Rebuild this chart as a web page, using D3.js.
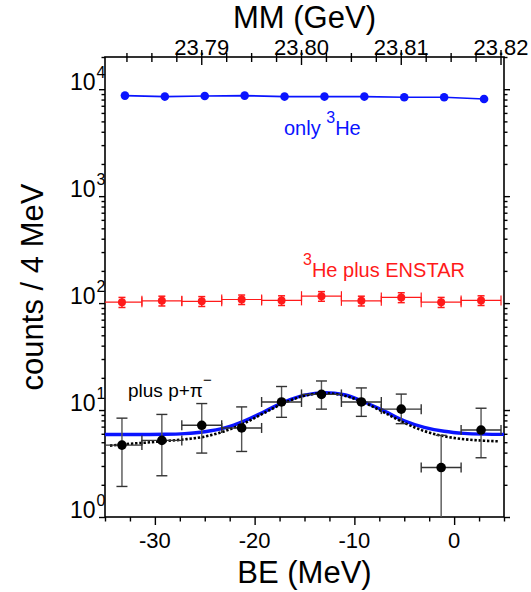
<!DOCTYPE html>
<html>
<head>
<meta charset="utf-8">
<script src="https://cdn.jsdelivr.net/npm/d3@7"></script>
<style>
  body { margin: 0; background: #fff; }
  svg { display: block; }
  text { font-family: "Liberation Sans", Arial, Helvetica, sans-serif; }
</style>
</head>
<body>
<svg id="chart" width="531" height="592"></svg>
<script>
// ---- data ---------------------------------------------------------------
// bin centres of the 4 MeV binding-energy histograms (MeV)
const beCentersOnlyHe = [-33, -29, -25, -21, -17, -13, -9, -5, -1, 3];
const onlyHe = [8710, 8530, 8650, 8710, 8530, 8530, 8530, 8410, 8410, 8110];

const beCenters = [-33.3, -29.3, -25.3, -21.3, -17.3, -13.3, -9.3, -5.3, -1.3, 2.7];
const heEnstar = [102, 105, 104, 108, 106, 116, 105, 113, 102, 106];
const heEnstarErr = [11, 11, 11, 11, 11, 12, 11, 12, 11, 11];

const plusPPi = [4.7, 5.2, 7.2, 6.8, 11.9, 14.0, 11.9, 10.2, 2.9, 6.5];
const plusPPiHi = [8.4, 9.1, 11.5, 10.7, 16.6, 18.7, 16.1, 14.1, 5.8, 10.4];
const plusPPiLo = [1.93, 2.43, 3.96, 4.1, 8.55, 10.2, 8.73, 7.46, 0.5, 3.58];
const binHalfWidth = 2;

// fit with flat background (solid blue)
const fitBE = [-35, -33, -31, -29, -27, -25, -23, -21, -19, -17, -15, -13, -11, -9, -7, -5, -3, -1, 1, 3, 5];
const fitFlat = [5.90, 5.90, 5.91, 5.93, 6.02, 6.27, 6.80, 7.92, 9.70, 11.95, 13.80, 14.55, 13.90, 11.90, 9.80, 7.95, 6.90, 6.33, 6.05, 5.95, 5.92];
// fit with curved background (dotted black)
const fitAltBE = [-34.5, -33, -31, -29, -27, -25, -23, -21, -19, -17, -15, -13, -11, -9, -7, -5, -3, -1, 1, 3, 4.5];
const fitCurvedBg = [4.65, 4.80, 4.95, 5.13, 5.32, 5.65, 6.35, 7.56, 9.43, 11.69, 13.62, 14.38, 13.63, 11.72, 9.47, 7.60, 6.37, 5.69, 5.34, 5.17, 5.10];

const beMajorTicks = [-30, -20, -10, 0];
const beMinorTicks = [-35, -32.5, -27.5, -25, -22.5, -17.5, -15, -12.5, -7.5, -5, -2.5, 2.5, 5];
const yDecades = [0, 1, 2, 3, 4];
const mmMajorTicks = [23.79, 23.80, 23.81, 23.82];
const mmMinorTicks = [23.7825, 23.785, 23.7875, 23.7925, 23.795, 23.7975, 23.8025, 23.805, 23.8075, 23.8125, 23.815, 23.8175];
const mmAtZeroBE = 23.8153; // GeV

// ---- layout -------------------------------------------------------------
const W = 531, H = 592;
const m = { left: 105, right: 27, top: 57, bottom: 75 };
const x0 = m.left, x1 = W - m.right, yTop = m.top, yBot = H - m.bottom;

const svg = d3.select("#chart");

const x = d3.scaleLinear().domain([-35, 5]).range([x0, x1]);
const xMM = d3.scaleLinear().domain([mmAtZeroBE - 0.035, mmAtZeroBE + 0.005]).range([x0, x1]);
const y = d3.scaleLog().domain([1, 20000]).range([yBot, yTop]);

svg.append("defs").append("clipPath").attr("id", "plotArea")
  .append("rect").attr("x", x0).attr("y", yTop).attr("width", x1 - x0).attr("height", yBot - yTop);

// ---- axes ---------------------------------------------------------------
const yMinor = [];
for (let k = 0; k <= 4; k++) for (let j = 2; j <= 9; j++) {
  const v = j * Math.pow(10, k);
  if (v <= 20000) yMinor.push(v);
}
const yMajor = yDecades.map(k => Math.pow(10, k));

function axisLines(g) { g.select(".domain").remove(); g.selectAll("line").attr("stroke", "#000").attr("stroke-width", 1.4); }

svg.append("g").attr("transform", `translate(${x0},0)`)
  .call(d3.axisLeft(y).tickValues(yMajor).tickSize(6).tickFormat("")).call(axisLines);
svg.append("g").attr("transform", `translate(${x0},0)`)
  .call(d3.axisLeft(y).tickValues(yMinor).tickSize(3.5).tickFormat("")).call(axisLines);
svg.append("g").attr("transform", `translate(${x1},0)`)
  .call(d3.axisRight(y).tickValues(yMajor).tickSize(6).tickFormat("")).call(axisLines);
svg.append("g").attr("transform", `translate(${x1},0)`)
  .call(d3.axisRight(y).tickValues(yMinor).tickSize(3.5).tickFormat("")).call(axisLines);

svg.append("g").attr("transform", `translate(0,${yBot})`)
  .call(d3.axisBottom(x).tickValues(beMajorTicks).tickSize(8).tickFormat("")).call(axisLines);
svg.append("g").attr("transform", `translate(0,${yBot})`)
  .call(d3.axisBottom(x).tickValues(beMinorTicks).tickSize(4.5).tickFormat("")).call(axisLines);

// top MM axis: tick marks cross the frame line
svg.append("g").selectAll("line").data(mmMajorTicks).join("line")
  .attr("x1", d => xMM(d)).attr("x2", d => xMM(d))
  .attr("y1", yTop - 7).attr("y2", yTop + 8)
  .attr("stroke", "#000").attr("stroke-width", 1.4);
svg.append("g").selectAll("line").data(mmMinorTicks).join("line")
  .attr("x1", d => xMM(d)).attr("x2", d => xMM(d))
  .attr("y1", yTop - 4).attr("y2", yTop + 5)
  .attr("stroke", "#000").attr("stroke-width", 1.4);

// frame
svg.append("rect").attr("x", x0).attr("y", yTop).attr("width", x1 - x0).attr("height", yBot - yTop)
  .attr("fill", "none").attr("stroke", "#000").attr("stroke-width", 1.6);

// tick labels
svg.append("g").selectAll("text").data(beMajorTicks).join("text")
  .attr("x", d => x(d)).attr("y", 548).attr("text-anchor", "middle")
  .attr("font-size", 22).text(d => String(d));

svg.append("g").selectAll("text").data(mmMajorTicks).join("text")
  .attr("x", d => xMM(d)).attr("y", 55).attr("text-anchor", "middle")
  .attr("font-size", 22).text(d => d.toFixed(2));

const yLab = svg.append("g").selectAll("g").data(yDecades).join("g")
  .attr("transform", k => `translate(0,${y(Math.pow(10, k))})`);
yLab.append("text").attr("x", 95.5).attr("y", 1).attr("text-anchor", "end")
  .attr("font-size", 23).text("10");
yLab.append("text").attr("x", 96.5).attr("y", -11).attr("text-anchor", "start")
  .attr("font-size", 16).attr("fill", "#000").text(k => String(k));

// axis titles
svg.append("text").attr("x", (x0 + x1) / 2).attr("y", 28).attr("text-anchor", "middle")
  .attr("font-size", 31).text("MM (GeV)");
svg.append("text").attr("x", (x0 + x1) / 2).attr("y", 583).attr("text-anchor", "middle")
  .attr("font-size", 31).text("BE (MeV)");
svg.append("text").attr("transform", `translate(43,${(yTop + yBot) / 2}) rotate(-90)`)
  .attr("text-anchor", "middle").attr("font-size", 31).text("counts / 4 MeV");

// ---- plot contents --------------------------------------------------------
const plot = svg.append("g").attr("clip-path", "url(#plotArea)");

// fit curves
const fitLine = d3.line().x(d => x(d[0])).y(d => y(d[1])).curve(d3.curveMonotoneX);
plot.append("path").datum(fitBE.map((b, i) => [b, fitFlat[i]]))
  .attr("d", fitLine).attr("fill", "none").attr("stroke", "#0a14ff").attr("stroke-width", 3.4);
plot.append("path").datum(fitAltBE.map((b, i) => [b, fitCurvedBg[i]]))
  .attr("d", fitLine).attr("fill", "none").attr("stroke", "#000").attr("stroke-width", 2.6)
  .attr("stroke-dasharray", "2.4,1.8");

// only 3He: points joined by a line
plot.append("path").datum(beCentersOnlyHe.map((b, i) => [b, onlyHe[i]]))
  .attr("d", d3.line().x(d => x(d[0])).y(d => y(d[1])))
  .attr("fill", "none").attr("stroke", "#0a14ff").attr("stroke-width", 1.6);
plot.append("g").selectAll("circle").data(onlyHe).join("circle")
  .attr("cx", (d, i) => x(beCentersOnlyHe[i])).attr("cy", d => y(d)).attr("r", 4.3)
  .attr("fill", "#0a14ff");

// 3He plus ENSTAR: histogram-style error bars
const red = "#ff1a1a";
const rg = plot.append("g").attr("stroke", red).attr("stroke-width", 1.2);
heEnstar.forEach((v, i) => {
  const c = beCenters[i];
  const xl = x(c - binHalfWidth), xr = x(c + binHalfWidth), yy = y(v);
  rg.append("line").attr("x1", xl).attr("x2", xr).attr("y1", yy).attr("y2", yy);
  rg.append("line").attr("x1", xl).attr("x2", xl).attr("y1", yy - 5).attr("y2", yy + 5);
  rg.append("line").attr("x1", xr).attr("x2", xr).attr("y1", yy - 5).attr("y2", yy + 5);
  const yh = y(v + heEnstarErr[i]), yl = y(v - heEnstarErr[i]);
  rg.append("line").attr("x1", x(c)).attr("x2", x(c)).attr("y1", yh).attr("y2", yl).attr("stroke-width", 1.5);
  rg.append("line").attr("x1", x(c) - 3.5).attr("x2", x(c) + 3.5).attr("y1", yh).attr("y2", yh).attr("stroke-width", 1.5);
  rg.append("line").attr("x1", x(c) - 3.5).attr("x2", x(c) + 3.5).attr("y1", yl).attr("y2", yl).attr("stroke-width", 1.5);
});
plot.append("g").selectAll("circle").data(heEnstar).join("circle")
  .attr("cx", (d, i) => x(beCenters[i])).attr("cy", d => y(d)).attr("r", 4).attr("fill", red);

// plus p+pi-: points with asymmetric errors
const kg = plot.append("g");
plusPPi.forEach((v, i) => {
  const c = beCenters[i];
  const xl = x(c - binHalfWidth), xr = x(c + binHalfWidth), yy = y(v);
  const yh = y(plusPPiHi[i]), yl = y(plusPPiLo[i]);
  kg.append("line").attr("x1", x(c)).attr("x2", x(c)).attr("y1", yh).attr("y2", yl)
    .attr("stroke", "#555").attr("stroke-width", 1.4);
  kg.append("line").attr("x1", x(c) - 5.5).attr("x2", x(c) + 5.5).attr("y1", yh).attr("y2", yh)
    .attr("stroke", "#333").attr("stroke-width", 1.4);
  kg.append("line").attr("x1", x(c) - 5.5).attr("x2", x(c) + 5.5).attr("y1", yl).attr("y2", yl)
    .attr("stroke", "#333").attr("stroke-width", 1.4);
  kg.append("line").attr("x1", xl).attr("x2", xr).attr("y1", yy).attr("y2", yy)
    .attr("stroke", "#333").attr("stroke-width", 1.4);
  kg.append("line").attr("x1", xl).attr("x2", xl).attr("y1", yy - 5).attr("y2", yy + 5)
    .attr("stroke", "#333").attr("stroke-width", 1.4);
  kg.append("line").attr("x1", xr).attr("x2", xr).attr("y1", yy - 5).attr("y2", yy + 5)
    .attr("stroke", "#333").attr("stroke-width", 1.4);
});
plot.append("g").selectAll("circle").data(plusPPi).join("circle")
  .attr("cx", (d, i) => x(beCenters[i])).attr("cy", d => y(d)).attr("r", 4.8).attr("fill", "#000");

// ---- labels ----------------------------------------------------------------
const t1 = svg.append("text").attr("x", 284).attr("y", 135).attr("font-size", 20).attr("fill", "#0a14ff");
t1.append("tspan").text("only ");
t1.append("tspan").attr("dy", -12).attr("font-size", 16).text("3");
t1.append("tspan").attr("dy", 12).text("He");

const t2 = svg.append("text").attr("x", 303).attr("y", 277).attr("font-size", 20).attr("fill", red);
t2.append("tspan").attr("dy", -12).attr("font-size", 16).text("3");
t2.append("tspan").attr("dy", 12).text("He plus ENSTAR");

const t3 = svg.append("text").attr("x", 128).attr("y", 397).attr("font-size", 19).attr("fill", "#000");
t3.append("tspan").text("plus p+π");
t3.append("tspan").attr("dy", -12).attr("font-size", 15).text("−");
</script>
</body>
</html>
